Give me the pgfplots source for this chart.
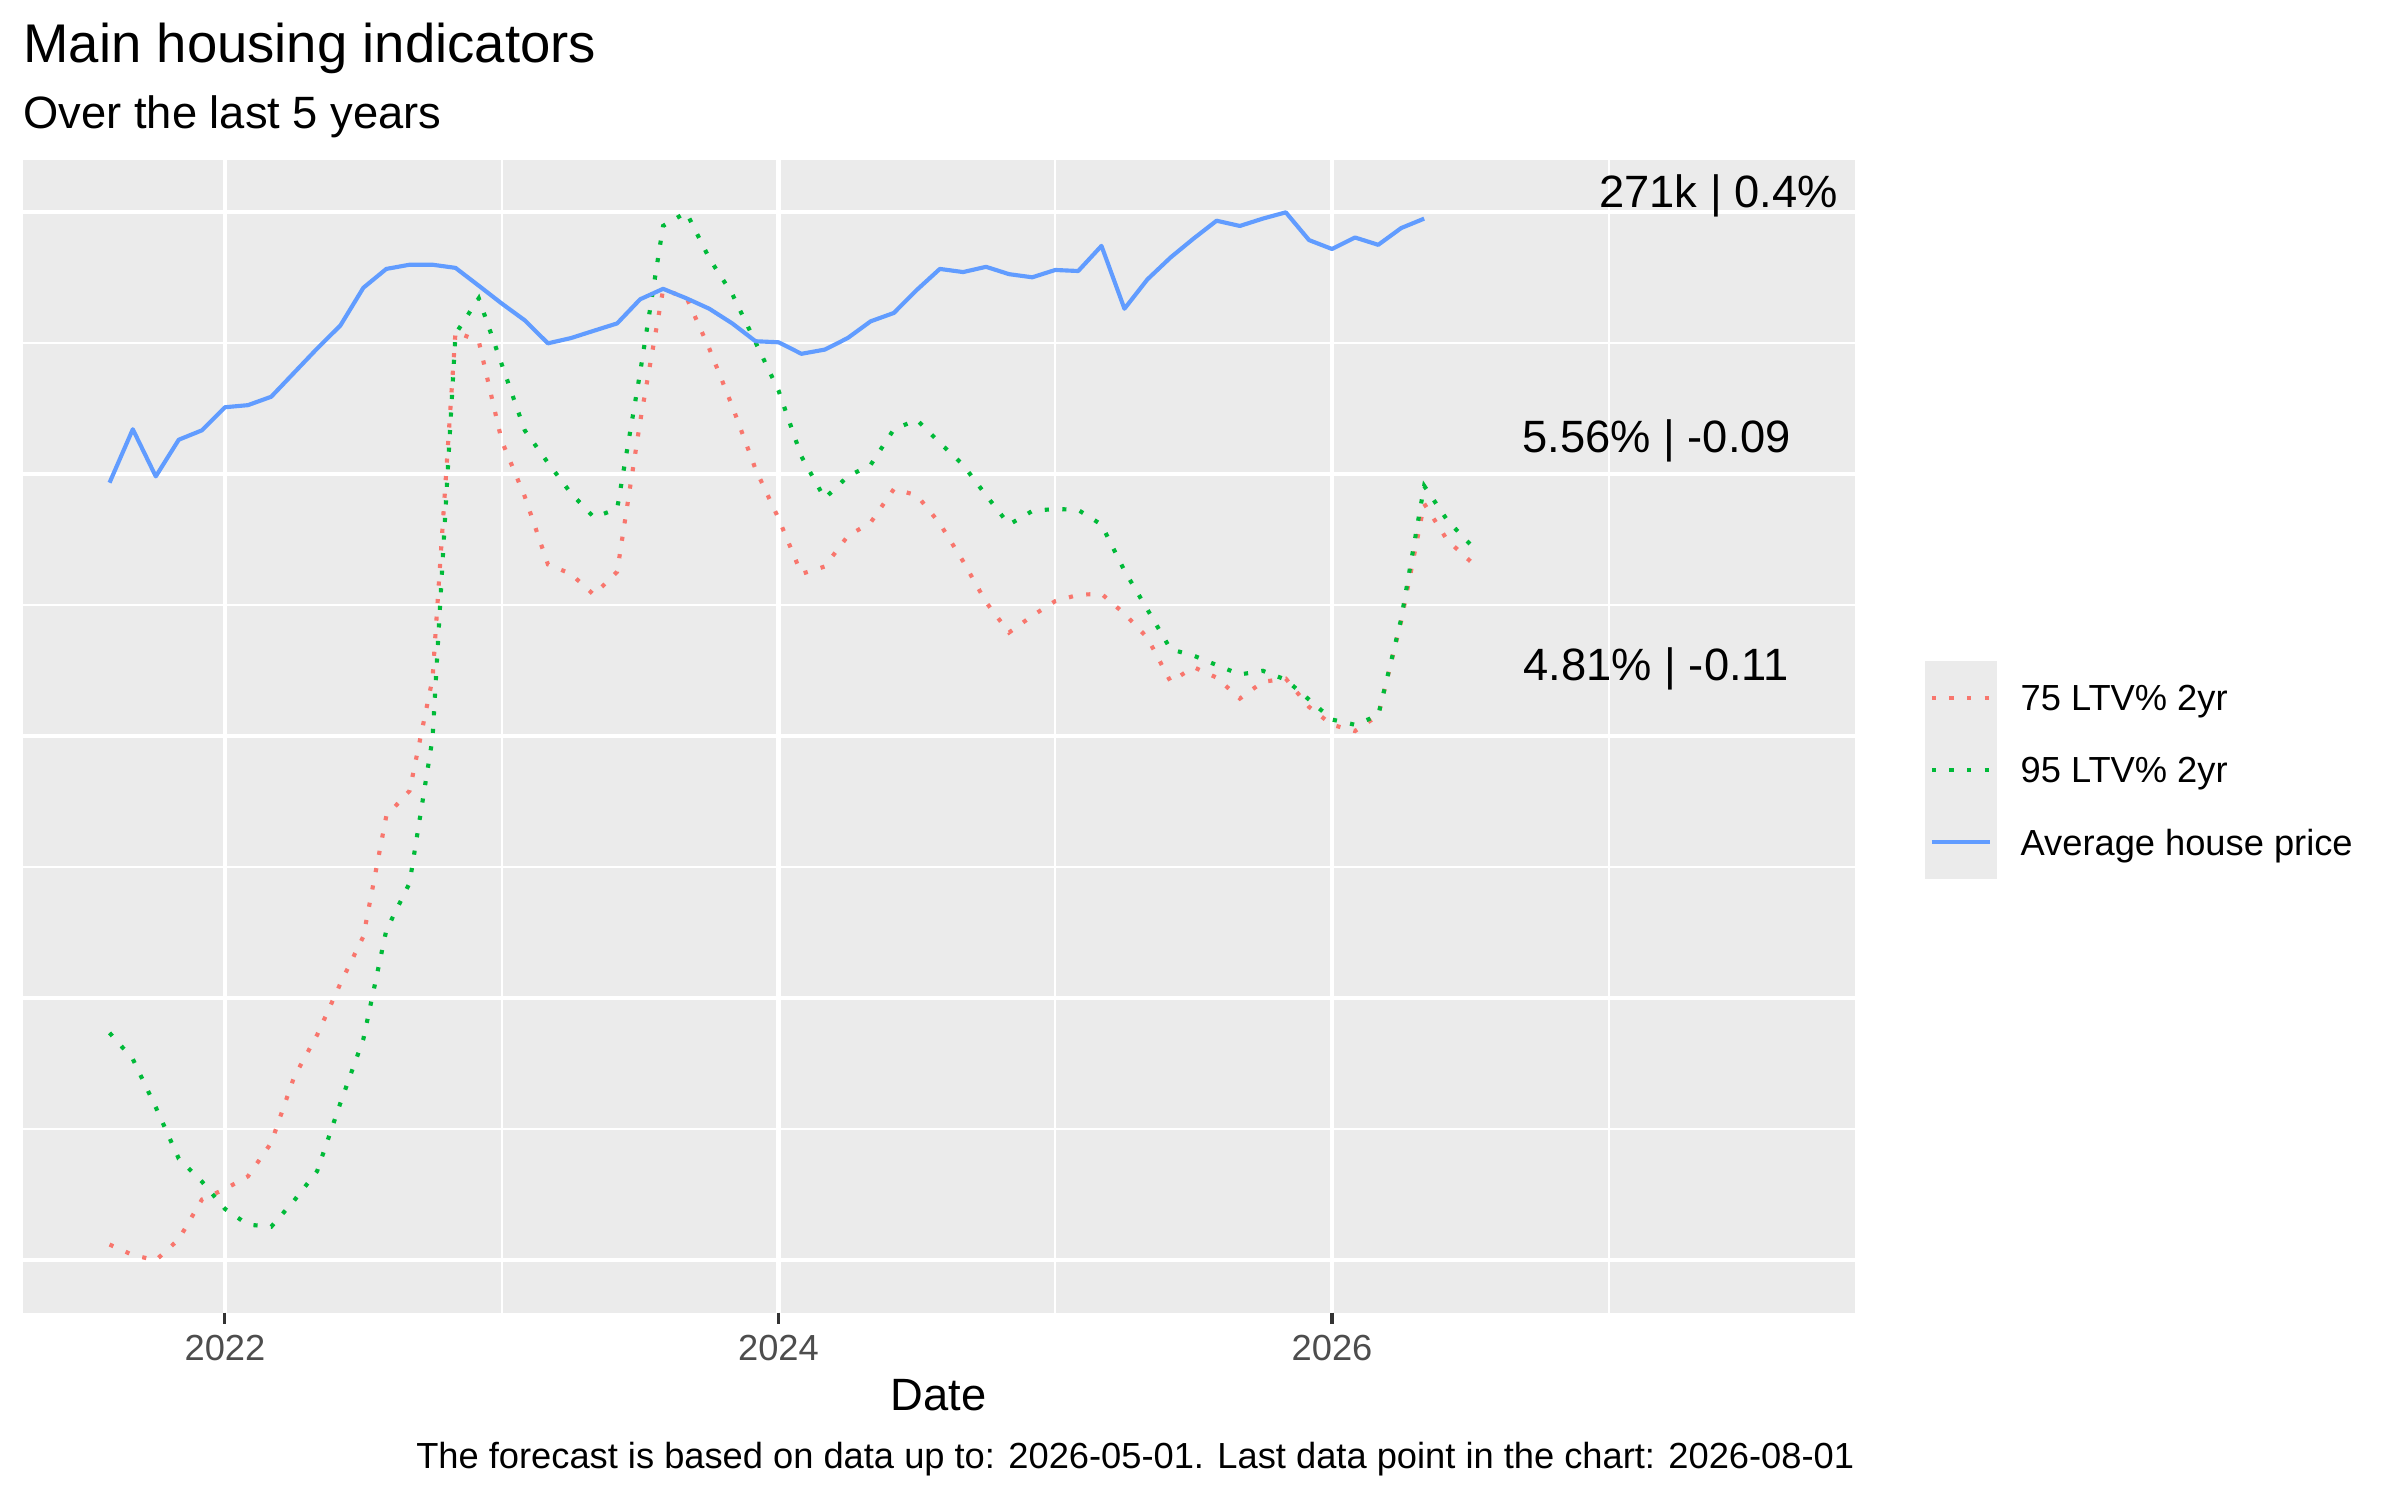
\documentclass[border=0pt]{standalone}
\usepackage{fontspec}
\setmainfont{Liberation Sans}
\usepackage{pgfplots}
\pgfplotsset{compat=1.18}
\usepackage{pgfplotstable}
\definecolor{cRed}{HTML}{F8766D}
\definecolor{cGreen}{HTML}{00BA38}
\definecolor{cBlue}{HTML}{619CFF}
\definecolor{panel}{HTML}{EBEBEB}
\definecolor{ticktext}{HTML}{4D4D4D}
\definecolor{tickline}{HTML}{333333}

\pgfplotstableread{
x r g
2021.583 0.015 0.217
2021.667 0.005 0.192
2021.750 0.000 0.146
2021.833 0.020 0.097
2021.917 0.058 0.075
2022.000 0.068 0.049
2022.083 0.080 0.034
2022.167 0.112 0.032
2022.250 0.175 0.057
2022.333 0.215 0.085
2022.417 0.264 0.150
2022.500 0.309 0.211
2022.583 0.424 0.315
2022.667 0.448 0.360
2022.750 0.555 0.498
2022.833 0.886 0.884
2022.917 0.877 0.918
2023.000 0.782 0.855
2023.083 0.729 0.792
2023.167 0.664 0.761
2023.250 0.655 0.732
2023.333 0.635 0.709
2023.417 0.657 0.717
2023.500 0.800 0.847
2023.583 0.926 0.987
2023.667 0.919 1.000
2023.750 0.870 0.956
2023.833 0.815 0.922
2023.917 0.755 0.876
2024.000 0.708 0.830
2024.083 0.655 0.767
2024.167 0.662 0.727
2024.250 0.691 0.748
2024.333 0.704 0.759
2024.417 0.736 0.793
2024.500 0.730 0.802
2024.583 0.703 0.780
2024.667 0.667 0.759
2024.750 0.628 0.730
2024.833 0.599 0.702
2024.917 0.615 0.715
2025.000 0.629 0.717
2025.083 0.635 0.716
2025.167 0.636 0.702
2025.250 0.617 0.658
2025.333 0.594 0.621
2025.417 0.552 0.583
2025.500 0.566 0.577
2025.583 0.556 0.568
2025.667 0.536 0.559
2025.750 0.552 0.5625
2025.833 0.555 0.554
2025.917 0.528 0.535
2026.000 0.511 0.516
2026.083 0.505 0.511
2026.167 0.520 0.520
2026.250 0.610 0.612
2026.333 0.722 0.739
2026.417 0.687 0.706
2026.500 0.667 0.683
}\rates

\pgfplotstableread{
x b
2021.583 0.742
2021.667 0.793
2021.750 0.748
2021.833 0.783
2021.917 0.792
2022.000 0.814
2022.083 0.816
2022.167 0.824
2022.250 0.847
2022.333 0.870
2022.417 0.892
2022.500 0.928
2022.583 0.946
2022.667 0.950
2022.750 0.950
2022.833 0.947
2022.917 0.930
2023.000 0.913
2023.083 0.897
2023.167 0.875
2023.250 0.880
2023.333 0.887
2023.417 0.894
2023.500 0.917
2023.583 0.927
2023.667 0.918
2023.750 0.908
2023.833 0.894
2023.917 0.877
2024.000 0.876
2024.083 0.865
2024.167 0.869
2024.250 0.880
2024.333 0.896
2024.417 0.904
2024.500 0.926
2024.583 0.946
2024.667 0.943
2024.750 0.948
2024.833 0.941
2024.917 0.938
2025.000 0.945
2025.083 0.944
2025.167 0.968
2025.250 0.908
2025.333 0.936
2025.417 0.957
2025.500 0.975
2025.583 0.992
2025.667 0.987
2025.750 0.994
2025.833 1.000
2025.917 0.9735
2026.000 0.965
2026.083 0.976
2026.167 0.969
2026.250 0.985
2026.333 0.994
}\price

\begin{document}
\begin{tikzpicture}
\begin{scope}[x=0.5pt,y=0.5pt]
\path[use as bounding box] (0,0) rectangle (1568,980);
\end{scope}
\begin{axis}[
  at={(7.4pt,61.2pt)}, anchor=south west,
  width=598.5pt, height=376.55pt, scale only axis,
  xmin=2021.269, xmax=2027.889, ymin=-0.05, ymax=1.05,
  axis background/.style={fill=panel},
  axis line style={draw=none},
  xtick={2022,2024,2026}, xticklabels={2022,2024,2026},
  minor xtick={2023,2025,2027},
  ytick={0,0.25,0.5,0.75,1}, yticklabel=\empty,
  minor ytick={0.125,0.375,0.625,0.875},
  grid=both,
  major grid style={white, line width=1.35pt},
  minor grid style={white, line width=0.68pt},
  tick align=inside,
  xtick pos=left,
  major tick length=-3.7pt,
  minor tick length=0pt,
  xtick style={tickline, line width=1.0pt},
  ytick style={draw=none},
  xticklabel style={anchor=base, inner sep=0pt, yshift=-15.5pt,
    font=\fontsize{11.85}{14}\selectfont, text=ticktext},
  legend style={at={(1.0378,0.5651)}, anchor=north west, draw=none, fill=none,
    inner sep=0pt, row sep=0pt, column sep=0pt,
    nodes={inner sep=0pt, text depth=0pt, font=\fontsize{11.85}{14}\selectfont},
    cells={anchor=west}},
  legend cell align=left,
  legend image code/.code={%
    \path[fill=panel, draw=none, overlay] (0pt,-11.95pt) rectangle (23.55pt,11.95pt);
    \draw[#1] (2.35pt,0pt) -- (21.2pt,0pt);
    \path[draw=none, fill=none] (0pt,-11.77pt) rectangle (31.35pt,11.77pt);
  },
]
\addplot[cRed, line width=1.35pt, dash pattern=on 1.35pt off 4.4pt] table[x=x,y=r] {\rates};
\addlegendentry{75 LTV\% 2yr}
\addplot[cGreen, line width=1.35pt, dash pattern=on 1.35pt off 4.4pt] table[x=x,y=g] {\rates};
\addlegendentry{95 LTV\% 2yr}
\addplot[cBlue, line width=1.35pt, line join=round] table[x=x,y=b] {\price};
\addlegendentry{Average house price}
\end{axis}
\begin{scope}[x=0.5pt,y=0.5pt]
\node[anchor=base west, inner sep=0pt, font=\fontsize{17.8}{20}\selectfont] at (15,939.1) {Main housing indicators};
\node[anchor=base west, inner sep=0pt, font=\fontsize{14.8}{17}\selectfont] at (15,896.1) {Over the last 5 years};
\node[anchor=base west, inner sep=0pt, font=\fontsize{14.8}{17}\selectfont] at (1044.5,844.7) {271k | 0.4\%};
\node[anchor=base west, inner sep=0pt, font=\fontsize{14.8}{17}\selectfont] at (994.3,684.1) {5.56\% | -0.09};
\node[anchor=base west, inner sep=0pt, font=\fontsize{14.8}{17}\selectfont] at (995,535.5) {4.81\% | -0.11};
\node[anchor=base, inner sep=0pt, font=\fontsize{14.8}{17}\selectfont] at (613.3,58.3) {Date};
\node[anchor=base east, inner sep=0pt, font=\fontsize{11.85}{14}\selectfont] at (1211.8,20.7) {The forecast is based on data up to: 2026-05-01. Last data point in the chart: 2026-08-01};
\end{scope}
\end{tikzpicture}
\end{document}
